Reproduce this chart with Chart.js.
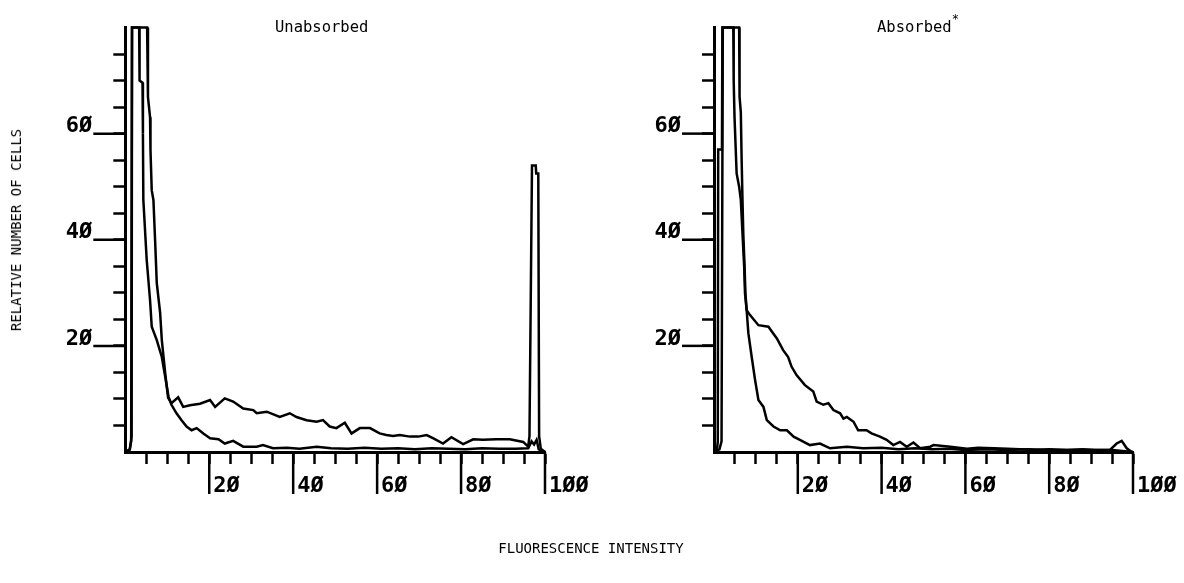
<!DOCTYPE html>
<html><head><meta charset="utf-8">
<script src="https://cdn.jsdelivr.net/npm/chart.js@4.4.1/dist/chart.umd.min.js"></script>
<style>
html,body{margin:0;padding:0;background:#fff;}
#wrap{position:relative;width:1184px;height:583px;overflow:hidden;background:#fff;}
canvas{position:absolute;top:0;}
.t{position:absolute;font-family:"DejaVu Sans Mono",monospace;color:#000;white-space:nowrap;}
.t sup{font-size:12px;line-height:0;vertical-align:baseline;position:relative;top:-9px;}
</style></head><body>
<div id="wrap">
<canvas id="c1" width="592" height="583" style="left:0;width:592px;height:583px"></canvas>
<canvas id="c2" width="592" height="583" style="left:592px;width:592px;height:583px"></canvas>
<div class="t" id="t1" style="left:275px;top:20px;font-size:15.5px;line-height:15.5px">Unabsorbed</div>
<div class="t" id="t2" style="left:877px;top:20px;font-size:15.5px;line-height:15.5px">Absorbed<sup>*</sup></div>
<div class="t" id="ytitle" style="left:16px;top:230px;font-size:14px;line-height:14px;transform:translate(-50%,-50%) rotate(-90deg);">RELATIVE NUMBER OF CELLS</div>
<div class="t" id="xtitle" style="left:591px;top:548px;font-size:14px;line-height:14px;transform:translate(-50%,-50%);">FLUORESCENCE INTENSITY</div>
</div>
<script>
// ---- data (x = fluorescence intensity, y = relative number of cells) ----
const xMajor = [20, 40, 60, 80, 100];
const xTickLabels = ['2Ø', '4Ø', '6Ø', '8Ø', '1ØØ'];
const yMajor = [20, 40, 60];
const yTickLabels = ['2Ø', '4Ø', '6Ø'];

const unabsorbedLow = [[0,0],[1.0,0.4],[1.4,2],[1.6,80],[3.3,80],[3.4,70],[4.1,69.6],[4.2,60],[4.3,47.5],[5.1,36.2],[5.9,28.6],[6.3,23.6],[7.5,21.1],[8.7,17.9],[9.5,14.2],[10.3,10.4],[11.0,8.9],[12.2,7.3],[13.4,6.0],[14.6,4.8],[15.8,4.1],[17.0,4.5],[18.6,3.5],[20.2,2.6],[22.2,2.4],[23.7,1.6],[25.7,2.1],[28.1,1.0],[31.3,1.0],[32.8,1.3],[35.2,0.7],[38.5,0.8],[41.5,0.6],[45.6,1.0],[49,0.7],[53,0.6],[57,0.8],[61,0.6],[65,0.7],[69,0.5],[73,0.7],[77,0.6],[81,0.5],[85,0.7],[89,0.6],[93,0.6],[96.0,0.7],[96.8,2.0],[97.4,1.4],[98.0,2.3],[98.5,0.5],[100,0]];

const unabsorbedHigh = [[0,0],[1.1,0.5],[1.5,3],[1.6,80],[5.2,80],[5.4,66.9],[5.9,63.1],[6.0,56.9],[6.3,49.3],[6.7,47.5],[7.1,39.9],[7.5,31.8],[8.3,26.2],[8.7,21.1],[9.5,14.9],[10.2,10.2],[11.0,9.2],[12.6,10.3],[13.8,8.5],[15.4,8.8],[17.8,9.1],[20.2,9.8],[21.4,8.5],[23.7,10.1],[25.7,9.5],[28.1,8.2],[30.5,7.9],[31.3,7.3],[33.7,7.6],[36.8,6.6],[39.2,7.3],[40.8,6.6],[43.2,6.0],[45.6,5.7],[47.1,6.0],[48.7,4.8],[50.3,4.5],[52.3,5.5],[53.9,3.5],[55.9,4.5],[58.3,4.5],[60.6,3.5],[62.2,3.2],[63.8,3.0],[65.4,3.2],[67.8,2.9],[69.8,2.9],[71.8,3.2],[73.3,2.6],[75.7,1.6],[77.7,2.8],[80.5,1.5],[82.9,2.4],[85.2,2.3],[88.4,2.4],[91.6,2.4],[94.8,1.9],[96.0,1.0],[96.3,3],[96.9,54],[97.8,54],[97.9,52.5],[98.4,52.5],[98.6,3],[99.0,0.6],[100,0]];

const absorbedLow = [[0,0],[0.7,0.3],[0.9,2],[1.0,57],[1.9,57],[2.0,80],[4.6,80],[4.7,70],[4.9,63.1],[5.4,52.5],[6.0,50],[6.4,47.5],[6.8,41.2],[7.2,34.9],[7.4,29.9],[7.8,26.7],[8.2,22.4],[9.0,17.9],[9.8,13.6],[10.6,9.8],[11.8,8.5],[12.6,6.0],[14.2,4.8],[15.8,4.1],[17.4,4.1],[19.0,2.9],[20.5,2.3],[22.9,1.3],[25.3,1.6],[27.7,0.7],[31.7,1.0],[35.6,0.7],[40,0.8],[44,0.5],[48,0.7],[52,0.5],[56,0.6],[60,0.4],[65,0.5],[70,0.4],[75,0.5],[80,0.4],[85,0.4],[90,0.4],[95,0.4],[100,0]];

const absorbedHigh = [[0,0],[1.3,0.5],[1.8,2],[2.1,80],[6.0,80],[6.1,67],[6.4,64],[6.6,55],[6.8,47.5],[7.0,41],[7.3,34.9],[7.5,29.9],[7.8,26.7],[8.6,25.8],[10.6,23.9],[13.0,23.6],[13.8,22.7],[15.0,21.4],[16.5,19.2],[17.7,17.9],[18.5,16.1],[19.7,14.5],[21.7,12.6],[23.7,11.4],[24.5,9.5],[26.1,8.9],[27.3,9.2],[28.5,7.9],[30.1,7.3],[30.9,6.3],[31.7,6.6],[33.3,5.7],[34.4,4.1],[36.4,4.1],[37.6,3.5],[39.6,2.9],[41.2,2.3],[42.8,1.3],[44.4,1.9],[46,1.0],[47.6,1.8],[49.2,0.7],[51.6,1.0],[52.4,1.3],[56.4,1.0],[60.4,0.6],[63,0.8],[66.8,0.7],[70,0.6],[73,0.5],[76.3,0.4],[80,0.5],[84.2,0.4],[88,0.5],[91,0.4],[94.5,0.4],[96.1,1.6],[97.3,2.1],[98.5,0.7],[99.7,0],[100,0]];

// ---- chart construction ----
const tickFont = {family: '"DejaVu Sans Mono", monospace', size: 22, weight: 'bold'};

const majorTicks = {
  id: 'majorTicks',
  afterDraw(chart) {
    const {ctx, scales: {x, y}, chartArea} = chart;
    ctx.save();
    ctx.strokeStyle = '#000';
    ctx.lineWidth = 2.5;
    yMajor.forEach(v => {
      const py = y.getPixelForValue(v);
      ctx.beginPath(); ctx.moveTo(chartArea.left - 32, py); ctx.lineTo(chartArea.left, py); ctx.stroke();
    });
    xMajor.forEach(v => {
      const px = x.getPixelForValue(v);
      ctx.beginPath(); ctx.moveTo(px, chartArea.bottom); ctx.lineTo(px, chartArea.bottom + 42); ctx.stroke();
    });
    ctx.restore();
  }
};

function makePanel(canvasId, low, high, leftW, rightPad) {
  const toPts = s => s.map(([x, y]) => ({x, y}));
  const ds = d => ({data: toPts(d), borderColor: '#000', borderWidth: 2.5, pointRadius: 0, tension: 0, fill: false, clip: false});
  return new Chart(document.getElementById(canvasId), {
    type: 'line',
    data: {datasets: [ds(low), ds(high)]},
    options: {
      responsive: false, animation: false, devicePixelRatio: 1, events: [],
      layout: {padding: {top: 27.5, right: rightPad, left: 0, bottom: 0}},
      plugins: {legend: {display: false}, tooltip: {enabled: false}, title: {display: false}},
      scales: {
        x: {
          type: 'linear', min: 0, max: 100,
          border: {display: true, color: '#000', width: 3},
          grid: {drawOnChartArea: false, drawTicks: true, tickLength: 12, tickWidth: 2.5,
                 tickColor: c => (c.tick && c.tick.value === 0) ? 'rgba(0,0,0,0)' : '#000'},
          ticks: {stepSize: 5, autoSkip: false, maxRotation: 0, minRotation: 0, align: 'start', labelOffset: 4, padding: 9,
                  color: '#000', font: tickFont,
                  callback: v => { const i = xMajor.indexOf(v); return i >= 0 ? xTickLabels[i] : ''; }},
          afterFit: s => { s.height = 583 - 452; s.paddingLeft = 0; s.paddingRight = 0; }
        },
        y: {
          type: 'linear', min: 0, max: 80,
          border: {display: true, color: '#000', width: 3},
          grid: {drawOnChartArea: false, drawTicks: true, tickLength: 12, tickWidth: 2.5,
                 tickColor: c => (c.tick && (c.tick.value === 0 || c.tick.value === 80)) ? 'rgba(0,0,0,0)' : '#000'},
          ticks: {stepSize: 5, autoSkip: false, padding: 21, labelOffset: -7, color: '#000', font: tickFont,
                  callback: v => { const i = yMajor.indexOf(v); return i >= 0 ? yTickLabels[i] : ''; }},
          afterFit: s => { s.width = leftW; s.paddingTop = 0; s.paddingBottom = 0; }
        }
      }
    },
    plugins: [majorTicks]
  });
}

makePanel('c1', unabsorbedLow, unabsorbedHigh, 125.3, 592 - 545);
makePanel('c2', absorbedLow, absorbedHigh, 122, 592 - 541);
</script>
</body></html>
